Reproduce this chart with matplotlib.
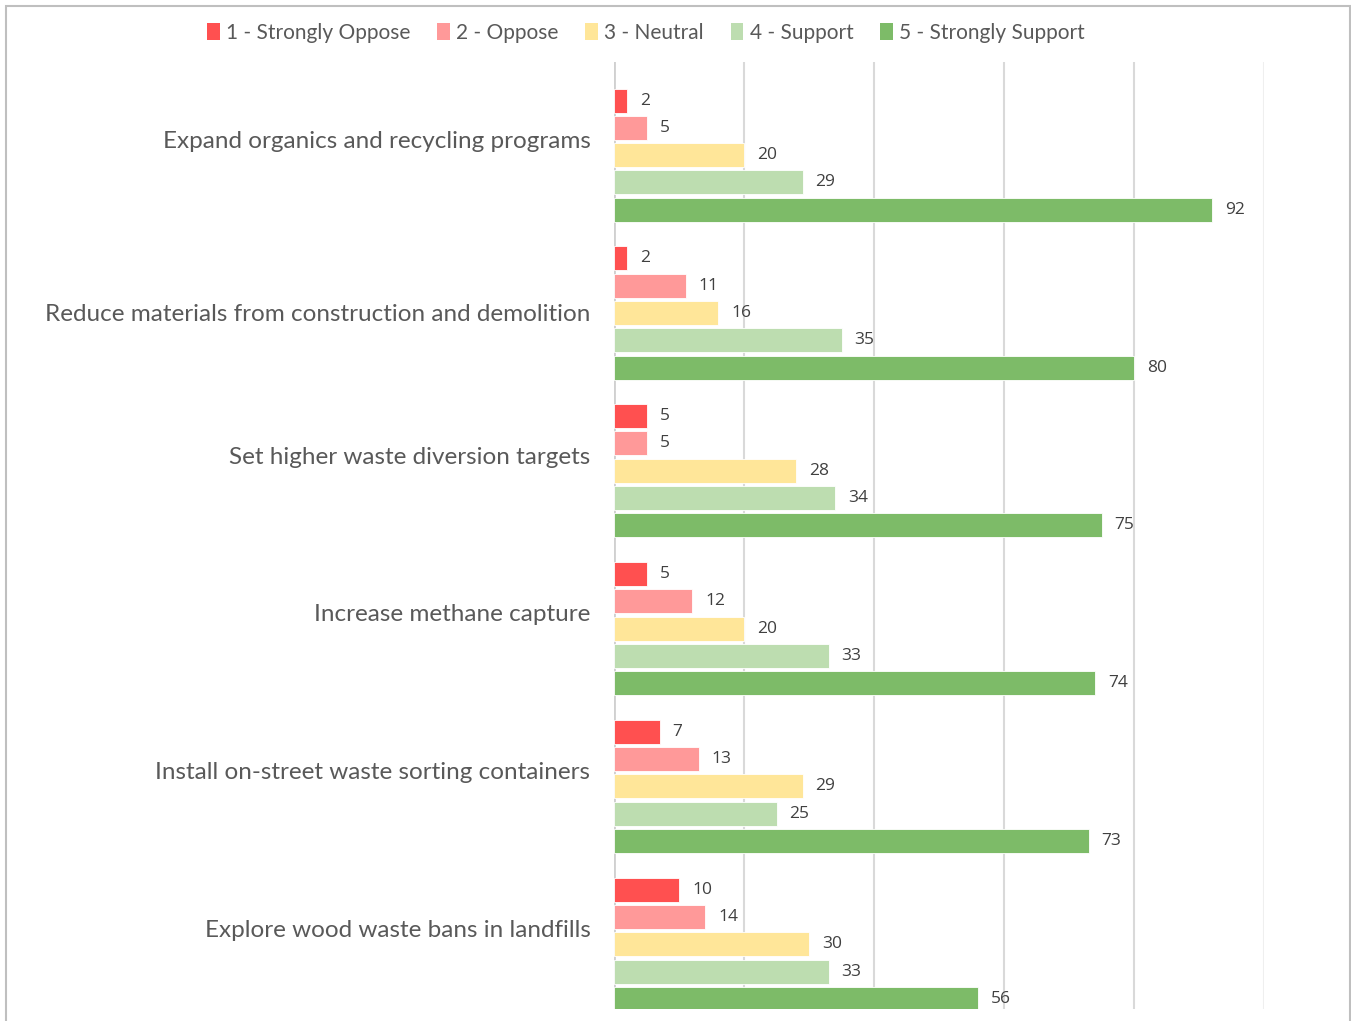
import numpy as np
import matplotlib.pyplot as plt
from matplotlib.patches import Rectangle, Patch
import matplotlib.transforms as mtransforms

# ---- DATA ---- #
categories = ['Expand organics and recycling programs',
              'Reduce materials from construction and demolition',
              'Set higher waste diversion targets',
              'Increase methane capture',
              'Install on-street waste sorting containers',
              'Explore wood waste bans in landfills']
series = ['1 - Strongly Oppose', '2 - Oppose', '3 - Neutral',
          '4 - Support', '5 - Strongly Support']
strongly_oppose = [2, 2, 5, 5, 7, 10]
oppose = [5, 11, 5, 12, 13, 14]
neutral = [20, 16, 28, 20, 29, 30]
support = [29, 35, 34, 33, 25, 33]
strongly_support = [92, 80, 75, 74, 73, 56]
values = [strongly_oppose, oppose, neutral, support, strongly_support]
colors = ['#FF5050', '#FF9999', '#FFE699', '#BDDDB0', '#7DBB68']
xticks = [0, 20, 40, 60, 80, 100]

# ---- PLOTTING ---- #
W, H = 1351, 1021
fig = plt.figure(figsize=(W / 100, H / 100), dpi=100)
plt.rcParams['font.family'] = ['Lato', 'DejaVu Sans']

# chart frame
fig.patches.append(Rectangle((6 / W, -0.01), (1350 - 6) / W, 1 - 6 / H + 0.01,
                             transform=fig.transFigure, fill=False,
                             edgecolor='#BFBFBF', linewidth=1.5))

ax = fig.add_axes([614 / W, 1 - 1009 / H, (1264 - 614) / W, (1009 - 62) / H])

y = np.arange(len(categories))
first = 0.244
step = 0.173
height = 0.152
for k, (name, vals, c) in enumerate(zip(series, values, colors)):
    pos = y + first + k * step
    ax.barh(pos, vals, height=height, color=c, edgecolor='white',
            linewidth=0.6, label=name, zorder=3)
    for p, v in zip(pos, vals):
        ax.text(v + 2, p, str(v), va='center', ha='left', fontsize=12.5,
                color='#404040', family=['Open Sans', 'DejaVu Sans'])

# ---- AXIS ---- #
ax.set_xlim(0, 100)
ax.set_ylim(len(categories), 0)
ax.set_xticks(xticks)
ax.tick_params(axis='x', length=0, labelbottom=False)
ax.grid(axis='x', color='#D9D9D9', linewidth=1.5, zorder=0)
ax.xaxis.get_gridlines()[-1].set_color('#EFEFEF')
for s in ax.spines.values():
    s.set_visible(False)
ax.axvline(0, color='#D0D0D0', linewidth=2, zorder=2)

ax.set_yticks(y + 0.49)
ax.set_yticklabels(categories, fontsize=17.5, color='#595959')
ax.tick_params(axis='y', length=0, pad=17)
# second label sits a little lower in the original
lbl = ax.get_yticklabels()[1]
lbl.set_transform(lbl.get_transform() +
                  mtransforms.ScaledTranslation(0, -0.15, fig.dpi_scale_trans))

# ---- LEGEND ---- #
handles = [Patch(facecolor=c, edgecolor='none') for c in colors]
fig.legend(handles, series, loc='center', bbox_to_anchor=(646 / W, 1 - 33 / H),
           ncol=5, frameon=False, fontsize=15, handlelength=0.6,
           handleheight=0.9, handletextpad=0.3, columnspacing=1.3,
           labelcolor='#595959')

plt.savefig('out.png', dpi=100)
